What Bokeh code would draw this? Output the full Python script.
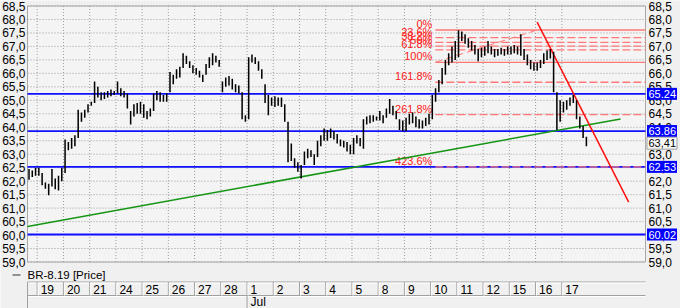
from bokeh.plotting import figure
from bokeh.models import Range1d, LinearAxis, FixedTicker, CustomJSTickFormatter
from bokeh.embed import file_html
from bokeh.resources import INLINE
from bokeh.core.properties import value

FONT = "Liberation Sans"

# ---------------- data ----------------
day_labels = ["19", "20", "21", "24", "25", "26", "27", "28", "1", "2", "3", "4", "5",
              "8", "9", "10", "11", "12", "15", "16", "17"]
month_labels = ["Jul"]
month_day_index = [8]
series_name = "BR-8.19 [Price]"

# end of the previous session (Jun 18), 3 bars
pre_lows = [62.05, 62.15, 62.2]
pre_highs = [62.45, 62.4, 62.5]

# 8 bars per session, one list per session
day_lows = [
    [62.2, 61.85, 61.72, 61.48, 61.8, 61.7, 61.65, 62.0],      # 19
    [62.3, 63.15, 63.2, 63.3, 63.6, 64.2, 64.35, 64.55],       # 20
    [64.8, 64.9, 65.1, 65.0, 65.05, 65.1, 65.15, 65.2],        # 21
    [65.25, 65.15, 65.1, 64.7, 64.1, 64.4, 64.5, 64.5],        # 24
    [64.35, 64.3, 64.4, 64.6, 65.0, 64.95, 64.95, 64.95],      # 25
    [65.3, 65.6, 65.8, 65.85, 66.2, 66.35, 66.2, 66.0],        # 26
    [65.95, 65.85, 65.68, 65.95, 66.2, 66.3, 66.4, 66.25],     # 27
    [65.3, 65.5, 65.55, 65.4, 65.3, 65.25, 64.3, 64.2],        # 28
    [64.3, 66.4, 66.35, 66.1, 65.8, 64.9, 64.45, 64.8],        # 1
    [64.75, 64.8, 64.75, 64.2, 62.7, 62.75, 62.5, 62.35],      # 2
    [62.1, 62.6, 62.85, 62.9, 62.6, 62.9, 63.3, 63.5],         # 3
    [63.5, 63.6, 63.55, 63.4, 63.3, 63.25, 63.1, 63.0],        # 4
    [63.0, 63.4, 63.3, 63.2, 64.1, 64.15, 64.2, 64.25],        # 5
    [64.25, 64.15, 64.35, 64.5, 64.45, 64.3, 63.9, 63.85],     # 8
    [63.85, 64.1, 64.15, 64.0, 63.95, 63.95, 64.05, 64.1],     # 9
    [64.3, 64.95, 65.3, 65.6, 65.95, 66.3, 66.4, 66.5],        # 10
    [66.6, 67.2, 67.1, 66.95, 66.85, 66.7, 66.45, 66.6],       # 11
    [66.65, 66.75, 66.7, 66.6, 66.65, 66.7, 66.65, 66.7],      # 12
    [66.7, 66.75, 66.7, 66.65, 66.5, 66.3, 66.15, 66.1],       # 15
    [66.1, 66.2, 66.35, 66.5, 66.55, 65.3, 63.9, 64.2],        # 16
    [64.55, 64.65, 64.8, 64.9, 64.3, 63.95, 63.6, 63.3],       # 17
]
day_highs = [
    [62.5, 62.3, 61.95, 61.9, 62.45, 62.1, 62.2, 62.5],
    [63.55, 63.45, 63.6, 63.7, 64.65, 64.55, 64.65, 64.85],
    [64.95, 65.7, 65.5, 65.3, 65.3, 65.35, 65.4, 65.35],
    [65.7, 65.45, 65.35, 65.25, 64.6, 64.85, 64.9, 64.95],
    [64.85, 64.6, 64.7, 65.25, 65.35, 65.3, 65.2, 65.25],
    [66.05, 65.95, 66.15, 66.25, 66.75, 66.65, 66.45, 66.3],
    [66.2, 66.1, 65.95, 66.35, 66.6, 66.75, 66.65, 66.5],
    [65.7, 65.85, 65.9, 65.8, 65.6, 65.55, 65.3, 64.45],
    [66.6, 66.7, 66.6, 66.45, 66.15, 65.6, 65.2, 65.1],
    [65.15, 65.1, 65.1, 64.85, 64.2, 63.4, 62.85, 62.7],
    [62.6, 63.1, 63.2, 63.15, 63.0, 63.5, 63.7, 63.95],
    [63.9, 63.95, 63.85, 63.75, 63.55, 63.5, 63.45, 63.35],
    [63.6, 63.7, 63.6, 64.3, 64.4, 64.45, 64.45, 64.4],
    [64.6, 64.45, 64.7, 65.05, 64.8, 64.6, 64.3, 64.25],
    [64.35, 64.5, 64.55, 64.4, 64.3, 64.25, 64.35, 64.5],
    [65.2, 65.45, 65.75, 66.2, 66.5, 66.75, 67.0, 67.2],
    [67.6, 67.55, 67.45, 67.3, 67.2, 67.05, 66.9, 66.95],
    [67.0, 67.2, 67.0, 66.9, 66.9, 66.95, 66.9, 67.0],
    [67.0, 67.05, 67.0, 67.45, 66.9, 66.7, 66.5, 66.4],
    [66.4, 66.5, 66.75, 66.85, 66.9, 66.8, 65.3, 65.0],
    [64.95, 65.0, 65.1, 65.2, 65.0, 64.4, 64.05, 63.65],
]
last_price = 63.41

# horizontal support / resistance levels (blue)
level_prices = [65.24, 63.86, 62.53, 60.02]
level_texts = ["65.24", "63.86", "62.53", "60.02"]

# Fibonacci tool
fib_labels = ["0%", "23.6%", "38.2%", "50%", "61.8%", "100%", "161.8%", "261.8%", "423.6%"]
fib_prices = [67.61, 67.33, 67.15, 67.01, 66.87, 66.41, 65.67, 64.47, 62.53]
fib_dashed = [False, True, True, True, True, False, True, True, True]
fib_start_day = 15.18
fib_anchor_days = [15.18, 19.06]
fib_anchor_prices = [66.41, 67.61]

# trend lines (day index, price)
up_trend_days = [-0.37, 22.24]
up_trend_prices = [60.32, 64.31]
down_trend_days = [19.06, 22.55]
down_trend_prices = [67.9, 61.22]

y_ticks = [59.0 + 0.5 * i for i in range(20)]
Y_MIN, Y_MAX = 59.0, 68.5

# ---------------- layout: canvas pixel -> data units ----------------
W, H = 680, 308
DAY0_PX, DAY_PX = 36.7, 26.23          # left edge of first session, px per session
TOP_PX, BOT_PX = 5.5, 261.5            # pixel rows of Y_MAX and Y_MIN
PY = (Y_MAX - Y_MIN) / (BOT_PX - TOP_PX)
PX = 1.0 / DAY_PX


def sx(px):
    return (px - DAY0_PX) * PX


def sy(py):
    return Y_MAX - (py - TOP_PX) * PY


X0, X1 = sx(27), sx(645)               # plot-area edges
BG = "#f0f0f0"
PLOT_BG = "#f4f4f4"
GRID = "#9c9c9c"

p = figure(width=W, height=H, x_range=Range1d(sx(0), sx(W)), y_range=Range1d(sy(H), sy(0)),
           output_backend="svg", toolbar_location=None, x_axis_location=None,
           y_axis_location=None, min_border=0, background_fill_color=BG,
           border_fill_color=BG, outline_line_color=None)
p.grid.visible = False

# plot area
p.quad(left=[X0], right=[X1], bottom=[Y_MIN], top=[Y_MAX], fill_color=PLOT_BG,
       line_color="#a8a8a8", line_width=1, level="image")

# grid lines
day_ticks = list(range(len(day_labels)))
p.segment(x0=day_ticks, y0=[Y_MIN] * len(day_ticks), x1=day_ticks, y1=[Y_MAX] * len(day_ticks),
          line_color=GRID, line_dash="1 2", line_width=1, level="underlay")
p.segment(x0=[X0] * len(y_ticks), y0=y_ticks, x1=[X1] * len(y_ticks), y1=y_ticks,
          line_color=GRID, line_dash="1 2", line_width=1, level="underlay")

# price axes on both sides of the plot area
fmt = CustomJSTickFormatter(code="return tick.toFixed(1).replace('.', ',');")
for loc, side, standoff in ((X0, "left", 2), (X1, "right", 3)):
    ax = LinearAxis(fixed_location=loc, ticker=FixedTicker(ticks=y_ticks), formatter=fmt,
                    bounds=(Y_MIN, Y_MAX))
    ax.axis_line_color = None
    ax.major_tick_line_color = None
    ax.minor_tick_line_color = None
    ax.major_tick_in = 0
    ax.major_tick_out = 0
    ax.major_label_standoff = standoff
    ax.major_label_text_font = FONT
    ax.major_label_text_font_size = "12px"
    ax.major_label_text_color = "#000000"
    p.add_layout(ax, side)

# bars
bar_x, lows, highs = [], [], []
n_pre = len(pre_lows)
for i in range(n_pre):
    bar_x.append(-(n_pre - i - 0.5) / 8)
    lows.append(pre_lows[i])
    highs.append(pre_highs[i])
for k in range(len(day_lows)):
    n = len(day_lows[k])
    for i in range(n):
        bar_x.append(k + (i + 0.5) / n)
        lows.append(day_lows[k][i])
        highs.append(day_highs[k][i])

# blue levels
p.segment(x0=[X0] * len(level_prices), y0=level_prices, x1=[X1] * len(level_prices), y1=level_prices,
          line_color="#1010ff", line_width=1.8)

# fibonacci lines
for price, dashed in zip(fib_prices, fib_dashed):
    p.segment(x0=[fib_start_day], y0=[price], x1=[X1], y1=[price],
              line_color="#ff7878", line_width=1.3, line_dash="8 3" if dashed else "solid")
p.line(fib_anchor_days, fib_anchor_prices, line_color="#ff7878", line_width=1, line_dash="7 4")
p.text(x=[fib_start_day - 3 * PX] * len(fib_labels), y=fib_prices, text=fib_labels,
       text_align="right", text_baseline="bottom", text_color="#ff2020",
       text_font=value(FONT), text_font_size="11px")

# trend lines
p.line(up_trend_days, up_trend_prices, line_color="#169616", line_width=1.5)
p.line(down_trend_days, down_trend_prices, line_color="#ff1010", line_width=1.5)

# price bars
p.vbar(x=bar_x, bottom=lows, top=highs, width=0.058, fill_color="#000000", line_color=None)

# right-side price tags (drawn above the axis labels)
tag_x = X1 + 16.5 * PX
p.rect(x=[tag_x] * len(level_prices), y=level_prices, width=30 * PX, height=12 * PY,
       fill_color="#0000ff", line_color=None, level="overlay")
p.text(x=[X1 + 3 * PX] * len(level_prices), y=level_prices, text=level_texts,
       text_align="left", text_baseline="middle", text_color="#ffffff",
       text_font=value(FONT), text_font_size="11px", level="overlay")
p.rect(x=[tag_x], y=[last_price], width=[30 * PX], height=[12 * PY],
       fill_color="#f8f8f8", line_color="#a0a0a0", line_width=1, level="overlay")
p.text(x=[X1 + 3 * PX], y=[last_price], text=[f"{last_price:.2f}".replace(".", ",")],
       text_align="left", text_baseline="middle", text_color="#000000",
       text_font=value(FONT), text_font_size="11px", level="overlay")

# ---------------- legend + date table below the plot area ----------------
p.segment(x0=[sx(12)], y0=[sy(274.5)], x1=[sx(20)], y1=[sy(274.5)], line_color="#303030", line_width=1)
p.text(x=[X0], y=[sy(274)], text=[series_name], text_align="left", text_baseline="middle",
       text_font=value(FONT), text_font_size="11.5px", text_color="#000000")

ROW_TOP, ROW_MID, ROW_BOT = sy(281.5), sy(295), sy(H)
LINE = "#a0a0a0"
q_x0 = [X0, X0]
q_x1 = [X1, X1]
p.segment(x0=q_x0, y0=[ROW_TOP, ROW_MID], x1=q_x1, y1=[ROW_TOP, ROW_MID], line_color=LINE, line_width=1)
p.segment(x0=q_x0, y0=[ROW_TOP - PY, ROW_MID - PY], x1=q_x1, y1=[ROW_TOP - PY, ROW_MID - PY],
          line_color="#ffffff", line_width=1)
sep_x = [X0] + day_ticks
p.segment(x0=sep_x, y0=[ROW_TOP] * len(sep_x), x1=sep_x, y1=[ROW_MID] * len(sep_x),
          line_color=LINE, line_width=1)
p.segment(x0=[c + PX for c in day_ticks], y0=[ROW_TOP - PY] * len(day_ticks),
          x1=[c + PX for c in day_ticks], y1=[ROW_MID] * len(day_ticks), line_color="#ffffff", line_width=1)
msep = [X0] + month_day_index
p.segment(x0=msep, y0=[ROW_MID] * len(msep), x1=msep, y1=[ROW_BOT] * len(msep),
          line_color=LINE, line_width=1)
p.text(x=[c + 3.5 * PX for c in day_ticks], y=[sy(288.5)] * len(day_ticks), text=day_labels,
       text_align="left", text_baseline="middle", text_font=value(FONT), text_font_size="12px",
       text_color="#000000")
p.text(x=[m + 3.5 * PX for m in month_day_index], y=[sy(301.5)] * len(month_labels), text=month_labels,
       text_align="left", text_baseline="middle", text_font=value(FONT), text_font_size="12px",
       text_color="#000000")

open("out.html", "w").write(file_html(p, INLINE))
